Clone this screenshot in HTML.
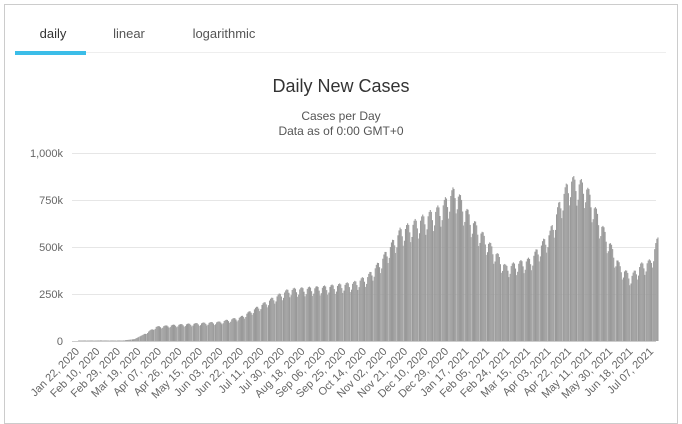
<!DOCTYPE html>
<html><head><meta charset="utf-8"><style>
body{margin:0;width:682px;height:414px;overflow:hidden;background:#fff;font-family:"Liberation Sans",sans-serif}
#card{position:absolute;left:4px;top:4px;width:674px;height:420px;border:1px solid #ccc;box-sizing:border-box}
</style></head><body>
<div id="card"></div>
<svg id="s" width="682" height="414" style="position:absolute;left:0;top:0" font-family="Liberation Sans, sans-serif">
<text x="53" y="38" font-size="13" fill="#333" text-anchor="middle">daily</text>
<text x="129" y="38" font-size="13" fill="#555" text-anchor="middle">linear</text>
<text x="224" y="38" font-size="13" fill="#555" text-anchor="middle">logarithmic</text>
<line x1="15" y1="52.5" x2="666" y2="52.5" stroke="#eee"/>
<rect x="15" y="51" width="71" height="4" fill="#3bbde8"/>
<text x="341" y="92" font-size="18" fill="#333" text-anchor="middle">Daily New Cases</text>
<text x="341" y="120" font-size="12" fill="#555" text-anchor="middle">Cases per Day</text>
<text x="341" y="135" font-size="12" fill="#555" text-anchor="middle">Data as of 0:00 GMT+0</text>
<g id="grid"></g><g id="bars" fill="#999"></g><g id="lab" font-size="11" fill="#666"></g>
</svg>
<script>
var ns="http://www.w3.org/2000/svg",g=document.getElementById('grid'),b=document.getElementById('bars'),l=document.getElementById('lab');
function el(p,t,a,txt){var e=document.createElementNS(ns,t);for(var k in a)e.setAttribute(k,a[k]);if(txt)e.textContent=txt;p.appendChild(e);return e;}
var y0=341,pk=188/1000;
var yl=["0","250k","500k","750k","1,000k"];
for(var i=0;i<5;i++){var y=y0-i*47;el(g,'line',{x1:72,x2:656,y1:y+.5,y2:y+.5,stroke:i?'#e6e6e6':'#ccc'});el(l,'text',{x:63,y:y+4,'text-anchor':'end'},yl[i]);}
var kp=[[0,0.5],[40,2],[52,10],[62,40],[72,75],[90,85],[130,100],[150,125],[165,175],[180,225],[195,270],[230,285],[255,305],[268,340],[280,420],[298,580],[317,640],[335,700],[349,800],[363,650],[386,470],[396,390],[419,430],[437,570],[448,760],[456,850],[470,820],[484,620],[502,390],[512,340],[521,400],[530,420],[537,540]];
function f(d){for(var i=0;i<kp.length-1;i++){if(d<=kp[i+1][0]){var a=kp[i],c=kp[i+1];return a[1]+(c[1]-a[1])*(d-a[0])/(c[0]-a[0]);}}return kp[kp.length-1][1];}
var px=1.079,x0=78;
for(var d=0;d<=537;d++){var w=d%7,m=[0.86,0.9,1.0,1.03,1.04,1.02,0.95][w];var v=f(d)*(d>60?m:1);if(d==21)v=5;var h=v*pk;if(h<0.5)h=0.5;el(b,'rect',{x:(x0+d*px).toFixed(2),y:(y0-h).toFixed(2),width:(w==0?0.8:1.08),height:h.toFixed(2)});}
var mo=["Jan","Feb","Mar","Apr","May","Jun","Jul","Aug","Sep","Oct","Nov","Dec"];
var st=new Date(Date.UTC(2020,0,22));
for(var d=0;d<=532;d+=19){var dt=new Date(st.getTime()+d*864e5);var s=mo[dt.getUTCMonth()]+" "+("0"+dt.getUTCDate()).slice(-2)+", "+dt.getUTCFullYear();var x=x0+d*px+2;el(l,'text',{x:x,y:352,'text-anchor':'end',transform:'rotate(-45 '+x+' 352)'},s);}
</script>
</body></html>
